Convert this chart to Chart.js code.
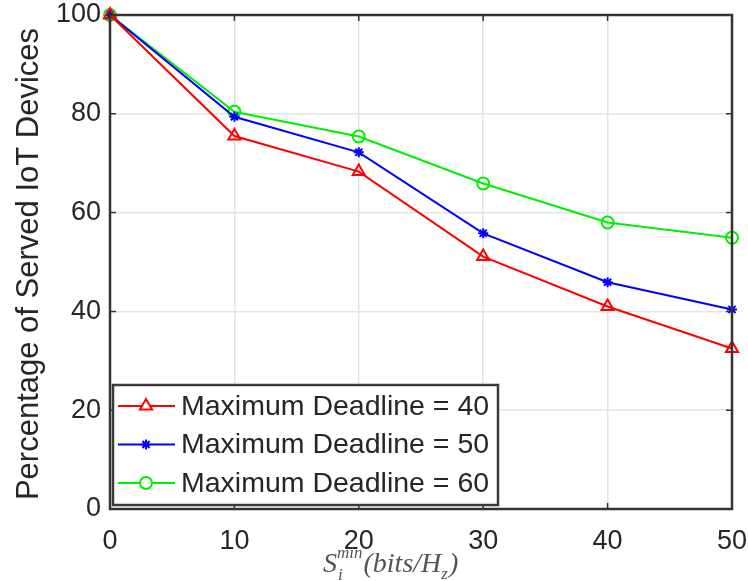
<!DOCTYPE html>
<html>
<head>
<meta charset="utf-8">
<script src="https://cdn.jsdelivr.net/npm/chart.js@4.4.1/dist/chart.umd.min.js"></script>
<style>
  html, body { margin: 0; padding: 0; background: #fff; }
  #wrap { width: 748px; height: 581px; position: relative; }
</style>
</head>
<body>
<div id="wrap"><canvas id="canvas"></canvas></div>
<script>
const xValues = [0, 10, 20, 30, 40, 50];
const deadline40 = [100, 75.5, 68.3, 51.1, 41.0, 32.5];
const deadline50 = [100, 79.4, 72.2, 55.8, 45.9, 40.4];
const deadline60 = [100, 80.4, 75.4, 65.9, 58.0, 54.9];
const seriesNames = ['Maximum Deadline = 40', 'Maximum Deadline = 50', 'Maximum Deadline = 60'];
const yTicks = [0, 20, 40, 60, 80, 100];

const textColor = '#262626';
const axisColor = '#333333';

function pts(vals) {
  return vals.map((v, i) => ({ x: xValues[i], y: v }));
}

// no extra room for overhanging tick labels, the plot box is placed by layout padding
function noOverhang(s) {
  s.paddingLeft = 0; s.paddingRight = 0; s.paddingTop = 0; s.paddingBottom = 0;
}

// box, inward ticks, axis titles and the legend, drawn MATLAB style
const matlabFrame = {
  id: 'matlabFrame',
  afterDatasetsDraw(chart) {
    const c = chart.ctx;
    const a = chart.chartArea;
    const xs = chart.scales.x, ys = chart.scales.y;
    c.save();
    // inward ticks
    c.strokeStyle = axisColor;
    c.lineWidth = 1.5;
    xValues.forEach(v => {
      const px = xs.getPixelForValue(v);
      c.beginPath();
      c.moveTo(px, a.bottom); c.lineTo(px, a.bottom - 6);
      c.moveTo(px, a.top); c.lineTo(px, a.top + 6);
      c.stroke();
    });
    yTicks.forEach(v => {
      const py = ys.getPixelForValue(v);
      c.beginPath();
      c.moveTo(a.left, py); c.lineTo(a.left + 6, py);
      c.moveTo(a.right, py); c.lineTo(a.right - 6, py);
      c.stroke();
    });
    // box
    c.lineWidth = 2.5;
    c.strokeRect(a.left, a.top, a.right - a.left, a.bottom - a.top);

    // legend
    const lx = a.left + 3, ly = 385, lw = 385, lh = 120;
    c.fillStyle = '#fff';
    c.fillRect(lx, ly, lw, lh);
    c.lineWidth = 2.5;
    c.strokeStyle = '#3a3a3a';
    c.strokeRect(lx, ly, lw, lh);
    chart.data.datasets.forEach((ds, i) => {
      const yy = 406 + i * 38.5;
      c.strokeStyle = ds.borderColor;
      c.lineWidth = 2;
      c.beginPath();
      c.moveTo(lx + 5, yy); c.lineTo(lx + 62, yy);
      c.stroke();
      c.fillStyle = '#fff';
      c.strokeStyle = ds.borderColor;
      c.lineWidth = ds.pointBorderWidth;
      Chart.helpers.drawPoint(c, {
        pointStyle: ds.pointStyle, radius: ds.pointRadius, rotation: 0,
        borderWidth: ds.pointBorderWidth
      }, lx + 33, yy);
      c.fillStyle = textColor;
      c.font = '28.5px "Liberation Sans", Arial, sans-serif';
      c.textAlign = 'left';
      c.textBaseline = 'middle';
      c.fillText(ds.label, lx + 68, yy + 1);
    });

    // y axis title
    c.save();
    c.translate(29, (a.top + a.bottom) / 2 + 2);
    c.rotate(-Math.PI / 2);
    c.fillStyle = textColor;
    c.font = '31px "Liberation Sans", Arial, sans-serif';
    c.textAlign = 'center';
    c.textBaseline = 'middle';
    c.fillText('Percentage of Served IoT Devices', 0, 0);
    c.restore();

    // x axis title: S_i^{min}(bits/H_z)
    c.fillStyle = '#555';
    c.textBaseline = 'alphabetic';
    c.textAlign = 'left';
    let x = 323;
    const base = 572;
    const big = 'italic 28px "Liberation Serif", "DejaVu Serif", serif';
    const small = 'italic 17px "Liberation Serif", "DejaVu Serif", serif';
    c.font = big; c.fillText('S', x, base); x += c.measureText('S').width;
    c.font = small; c.fillText('i', x + 1, base + 8);
    c.fillText('min', x, base - 14); x += c.measureText('min').width + 1;
    c.font = big;
    const t1 = '(bits/H';
    c.fillText(t1, x, base); x += c.measureText(t1).width;
    c.font = small; c.fillText('z', x, base + 7); x += c.measureText('z').width + 1;
    c.font = big; c.fillText(')', x, base);
    c.restore();
  }
};

const data = {
  datasets: [
    {
      label: seriesNames[0],
      data: pts(deadline40),
      borderColor: '#ff0000',
      backgroundColor: '#ff0000',
      pointStyle: 'triangle',
      pointRadius: 7,
      pointBorderWidth: 2,
      pointBackgroundColor: 'rgba(0,0,0,0)'
    },
    {
      label: seriesNames[1],
      data: pts(deadline50),
      borderColor: '#0000ff',
      backgroundColor: '#0000ff',
      pointStyle: 'star',
      pointRadius: 5,
      pointBorderWidth: 2,
      pointBackgroundColor: 'rgba(0,0,0,0)'
    },
    {
      label: seriesNames[2],
      data: pts(deadline60),
      borderColor: '#00ee00',
      backgroundColor: '#00ee00',
      pointStyle: 'circle',
      pointRadius: 6,
      pointBorderWidth: 2,
      pointBackgroundColor: 'rgba(0,0,0,0)'
    }
  ]
};
data.datasets.forEach(d => { d.borderWidth = 2; d.fill = false; d.tension = 0; d.clip = false; });

const config = {
  type: 'line',
  data: data,
  options: {
    responsive: true,
    maintainAspectRatio: false,
    animation: false,
    layout: { padding: { top: 15, right: 16, left: 0, bottom: 0 } },
    plugins: {
      legend: { display: false },
      tooltip: { enabled: false }
    },
    scales: {
      x: {
        type: 'linear',
        min: 0, max: 50,
        afterBuildTicks: s => { s.ticks = xValues.map(v => ({ value: v })); },
        afterFit: s => { s.height = 72; noOverhang(s); },
        border: { display: false },
        grid: { color: '#e3e3e3', lineWidth: 1.5, drawTicks: false },
        ticks: {
          padding: 16,
          color: textColor,
          maxRotation: 0,
          font: { family: '"Liberation Sans", Arial, sans-serif', size: 27 }
        }
      },
      y: {
        min: 0, max: 100,
        afterBuildTicks: s => { s.ticks = yTicks.map(v => ({ value: v })); },
        afterFit: s => { s.width = 110; noOverhang(s); },
        border: { display: false },
        grid: { color: '#e3e3e3', lineWidth: 1.5, drawTicks: false },
        ticks: {
          padding: 9,
          color: textColor,
          font: { family: '"Liberation Sans", Arial, sans-serif', size: 27 }
        }
      }
    }
  },
  plugins: [matlabFrame]
};

new Chart(document.getElementById('canvas'), config);
</script>
</body>
</html>
